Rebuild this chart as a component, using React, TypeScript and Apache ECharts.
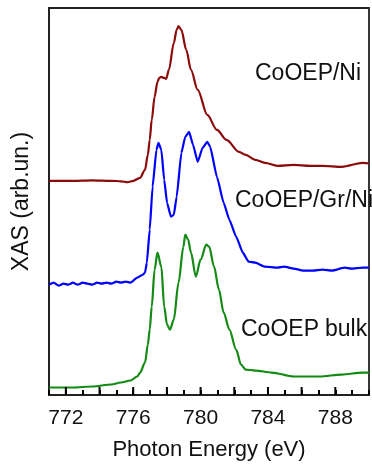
import React, { useEffect, useRef } from "react";
import * as echarts from "echarts";

// Photon energy (eV) / XAS intensity (arb. units)
const niCurve: [number, number][] = [
  [771.0, 214.5], [772.42, 214.5], [773.56, 215], [774.7, 214.5], [775.27, 214], [775.67, 213],
  [776.01, 214.5], [776.41, 217.5], [776.7, 225.5], [776.87, 240.5], [776.98, 255.5], [777.1, 275.5],
  [777.27, 298.5], [777.44, 313.5], [777.55, 317.5], [777.67, 318.5], [777.84, 317.5], [777.95, 316.5],
  [778.12, 325.5], [778.41, 352.5], [778.58, 365.5], [778.69, 369.5], [778.86, 365.5], [779.15, 345.5],
  [779.43, 325.5], [779.83, 305.5], [780.4, 280.5], [780.97, 265.5], [781.54, 255.5], [782.28, 243.5],
  [782.68, 240.5], [783.25, 235.5], [783.82, 232.5], [784.56, 229.5], [785.53, 230.5], [786.5, 229.5],
  [787.24, 229.5], [788.38, 228.5], [789.63, 232.5], [790.0, 232],
];

const grNiCurve: [number, number][] = [
  [771.0, 110.5], [771.28, 112.5], [771.57, 109.5], [771.85, 111.5], [772.14, 110.5], [772.42, 112.5],
  [772.71, 110.5], [772.99, 112.5], [773.28, 111.5], [773.56, 110.5], [773.85, 112.5], [774.13, 111.5],
  [774.42, 112.5], [774.7, 111.5], [774.99, 113.5], [775.27, 112.5], [775.56, 113.5], [775.84, 112.5],
  [776.24, 117.5], [776.58, 120.5], [776.7, 122.5], [776.81, 132.5], [776.98, 165.5], [777.15, 208.5],
  [777.38, 245.5], [777.5, 252.5], [777.67, 245.5], [777.84, 215.5], [778.01, 192.5], [778.24, 178.5],
  [778.41, 180.5], [778.58, 198.5], [778.86, 242.5], [779.09, 258.5], [779.32, 263.5], [779.55, 250.5],
  [779.83, 233.5], [780.12, 247.5], [780.4, 253.5], [780.57, 248.5], [780.97, 218.5], [781.37, 192.5],
  [781.71, 175.5], [782.11, 158.5], [782.51, 142.5], [782.85, 133.5], [783.25, 132.5], [783.82, 128.5],
  [784.56, 127.5], [784.96, 128.5], [785.53, 126.5], [786.1, 124.5], [786.67, 124.5], [787.24, 125.5],
  [787.81, 124.5], [788.55, 127.5], [788.95, 126.5], [789.63, 127.5], [790.0, 127.5],
];

const bulkCurve: [number, number][] = [
  [771.0, 7.5], [772.42, 7.5], [773.56, 8.5], [774.7, 10.5], [775.27, 12.5], [775.84, 14.5],
  [776.24, 18.5], [776.41, 22.5], [776.7, 32.5], [776.87, 50.5], [776.98, 65.5], [777.1, 88.5],
  [777.27, 125.5], [777.44, 142.5], [777.67, 128.5], [777.84, 88.5], [778.01, 70.5], [778.18, 65.5],
  [778.41, 75.5], [778.69, 112.5], [778.98, 148.5], [779.09, 160.5], [779.26, 155.5], [779.43, 142.5],
  [779.72, 118.5], [780.0, 135.5], [780.34, 150.5], [780.51, 148.5], [780.8, 128.5], [781.09, 105.5],
  [781.37, 82.5], [781.71, 65.5], [782.11, 45.5], [782.4, 30.5], [782.68, 25.5], [783.25, 24.5],
  [784.22, 22.5], [785.53, 18.5], [787.07, 18.5], [788.38, 20.5], [789.63, 22.5], [790.0, 22.5],
];

const seriesNames = ["CoOEP/Ni", "CoOEP/Gr/Ni", "CoOEP bulk"];
const seriesColors = ["#8b0a0a", "#0000ff", "#138a13"];
const xLabelTicks = [772, 776, 780, 784, 788];
const xMajorTicks = [772, 774, 776, 778, 780, 782, 784, 786, 788];

const FONT = "Liberation Sans, Arial, sans-serif";

export default function App() {
  const ref = useRef<HTMLDivElement>(null);
  useEffect(() => {
    if (!ref.current) return;
    const chart = echarts.init(ref.current, null, { renderer: "svg" });
    const curves = [niCurve, grNiCurve, bulkCurve];
    chart.setOption({
      animation: false,
      textStyle: { fontFamily: FONT },
      grid: {
        left: 45,
        right: -6,
        top: 8,
        bottom: 68.5,
        show: true,
        borderColor: "#222222",
        borderWidth: 1.8,
      },
      xAxis: {
        type: "value",
        min: 771,
        max: 790,
        interval: 1,
        name: "Photon Energy (eV)",
        nameLocation: "middle",
        nameGap: 42,
        nameTextStyle: { fontSize: 22, color: "#111", fontFamily: FONT },
        axisLine: { show: true, lineStyle: { color: "#222", width: 1.8 } },
        axisTick: {
          show: true,
          inside: true,
          length: 5,
          lineStyle: { color: "#000", width: 2 },
        },
        axisLabel: {
          fontSize: 21,
          color: "#111",
          margin: 11,
          fontFamily: FONT,
          formatter: (v: number) => (xLabelTicks.includes(Math.round(v)) ? String(Math.round(v)) : ""),
        },
        splitLine: { show: false },
      },
      yAxis: {
        type: "value",
        min: 0,
        max: 387.5,
        name: "XAS (arb.un.)",
        nameLocation: "middle",
        nameGap: 18,
        nameTextStyle: { fontSize: 23, color: "#111", fontFamily: FONT },
        axisLine: { show: true, lineStyle: { color: "#222", width: 1.8 } },
        axisTick: { show: false },
        axisLabel: { show: false },
        splitLine: { show: false },
      },
      series: [
        ...curves.map((c, i) => ({
          name: seriesNames[i],
          type: "line",
          data: c,
          showSymbol: false,
          smooth: i === 1 ? 0.15 : 0.3,
          smoothMonotone: "x",
          lineStyle: { color: seriesColors[i], width: 2.2 },
          itemStyle: { color: seriesColors[i] },
          z: 2,
        })),
        {
          type: "custom",
          clip: false,
          z: 5,
          data: xMajorTicks.map((v) => [v, 0]),
          renderItem: (_p: any, api: any) => {
            const pt = api.coord([api.value(0), 0]);
            return {
              type: "line",
              shape: { x1: pt[0], y1: pt[1], x2: pt[0], y2: pt[1] - 8 },
              style: { stroke: "#000", lineWidth: 2 },
            };
          },
        },
      ],
      graphic: [
        { type: "text", left: 255, top: 60, style: { text: seriesNames[0], fontSize: 23, fill: "#111", fontFamily: FONT } },
        { type: "text", left: 235, top: 187, style: { text: seriesNames[1], fontSize: 23, fill: "#111", fontFamily: FONT } },
        { type: "text", left: 241, top: 316, style: { text: seriesNames[2], fontSize: 23, fill: "#111", fontFamily: FONT } },
      ],
    });
    return () => chart.dispose();
  }, []);
  return (
    <div
      ref={ref}
      style={{ position: "fixed", left: 0, top: 0, width: 372, height: 464, overflow: "hidden" }}
    />
  );
}
